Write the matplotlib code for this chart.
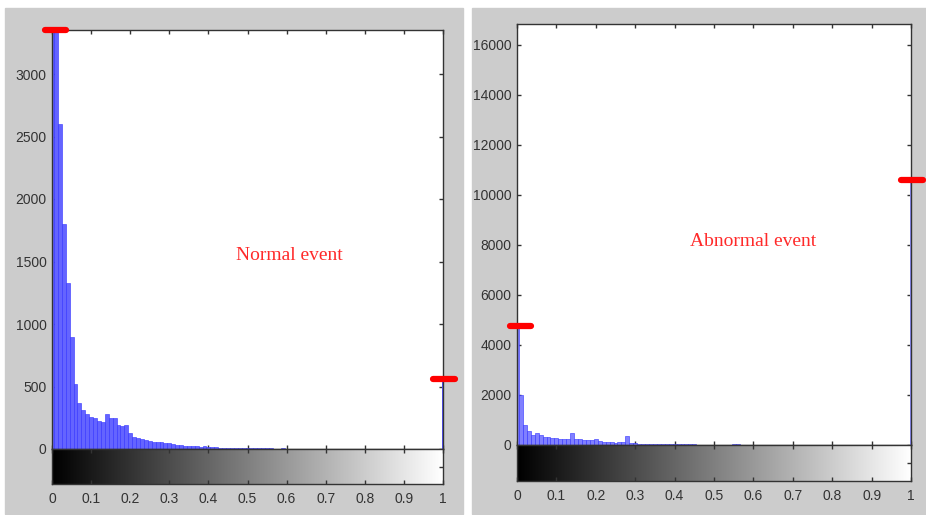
"""
Gray-level histograms of a normal and an abnormal event (MATLAB imhist style).
"""

import numpy as np
import matplotlib.pyplot as plt
from matplotlib.patches import Rectangle

LEVEL_STEP = 0.01   # histogram bin spacing on the 0..1 intensity axis

# counts per bin starting at intensity 0.00 (bins above the last value are empty)
NORMAL_COUNTS = [3600, 3450, 2600, 1800, 1330, 900, 520, 370, 310, 280,
                 260, 245, 225, 215, 280, 250, 245, 190, 185, 195,
                 130, 100, 85, 80, 75, 65, 60, 55, 55, 50,
                 50, 40, 35, 30, 28, 25, 25, 22, 20, 22,
                 18, 15, 14, 12, 12, 10, 10, 9, 8, 9,
                 8, 7, 6, 6, 7, 5, 5, 4, 4, 5,
                 4, 3, 2, 3, 2]
NORMAL_WHITE = 560   # count in the saturated (intensity 1.0) bin

ABNORMAL_COUNTS = [4750, 2000, 800, 550, 420, 500, 400, 340, 320, 300,
                   280, 260, 250, 240, 480, 260, 230, 200, 190, 200,
                   240, 180, 130, 120, 110, 100, 110, 120, 380, 90,
                   70, 60, 55, 50, 45, 40, 40, 35, 30, 30,
                   35, 30, 28, 25, 25, 22, 20, 20, 18, 15,
                   15, 14, 12, 12, 12, 30, 60, 10, 8, 6, 5]
ABNORMAL_WHITE = 10600

X_TICKS = [0, 0.1, 0.2, 0.3, 0.4, 0.5, 0.6, 0.7, 0.8, 0.9, 1]
X_TICK_LABELS = ["0", "0.1", "0.2", "0.3", "0.4", "0.5", "0.6", "0.7", "0.8", "0.9", "1"]
NORMAL_Y_TICKS = [0, 500, 1000, 1500, 2000, 2500, 3000]
ABNORMAL_Y_TICKS = [0, 2000, 4000, 6000, 8000, 10000, 12000, 14000, 16000]

W, H = 926, 515
TICK_FONT = ["Liberation Sans", "DejaVu Sans"]


def fig_rect(x0, y0, x1, y1):
    """pixel box (top-left origin) -> figure fraction [left, bottom, w, h]"""
    return [x0 / W, 1 - y1 / H, (x1 - x0) / W, (y1 - y0) / H]


def draw_panel(fig, counts, white, ymax, yticks, label, label_xy,
               bg_box, ax_box, cb_box, bar_color, white_color):
    # gray MATLAB figure background behind each panel
    fig.patches.append(Rectangle((bg_box[0], bg_box[1]), bg_box[2], bg_box[3],
                                 transform=fig.transFigure, color="#cccccc", zorder=-10))

    ax = fig.add_axes(fig_rect(*ax_box))
    levels = np.arange(len(counts)) * LEVEL_STEP
    ax.bar(levels, counts, width=LEVEL_STEP, color=bar_color,
           edgecolor="#3030ff", linewidth=0.4, zorder=2)
    ax.bar([1.0], [white], width=0.004, color=white_color, linewidth=0, zorder=2)

    ax.set_xlim(0, 1)
    ax.set_ylim(0, ymax)
    ax.set_xticks(X_TICKS)
    ax.set_xticklabels([])
    ax.set_yticks(yticks)
    ax.set_yticklabels([str(t) for t in yticks], family=TICK_FONT,
                       fontsize=10, color="#333333")
    ax.tick_params(direction="in", length=3, width=1, color="#333333",
                   top=True, right=True, pad=4)
    for s in ax.spines.values():
        s.set_color("#333333")
        s.set_linewidth(1)

    # red markers on the two peaks (clipped at the axis top if needed)
    y0 = min(counts[0], ymax)
    ax.plot([-0.018, 0.035], [y0, y0], color="red", lw=4.5,
            solid_capstyle="round", clip_on=False, zorder=5)
    ax.plot([0.975, 1.03], [white, white], color="red", lw=4.5,
            solid_capstyle="round", clip_on=False, zorder=5)

    ax.text(label_xy[0], label_xy[1], label, color="#ff2a2a", fontsize=14,
            family=["Liberation Serif", "DejaVu Serif"], ha="center", va="center")

    # gray-level colorbar underneath
    cb = fig.add_axes(fig_rect(*cb_box))
    cb.imshow(np.linspace(0, 1, 256).reshape(1, -1), cmap="gray", aspect="auto",
              extent=[0, 1, 0, 1], vmin=0, vmax=1)
    cb.set_xlim(0, 1)
    cb.set_ylim(0, 1)
    cb.set_xticks(X_TICKS)
    cb.set_xticklabels(X_TICK_LABELS, family=TICK_FONT, fontsize=10, color="#333333")
    cb.set_yticks([0.5])
    cb.set_yticklabels([])
    cb.tick_params(direction="in", length=3, width=1, color="#333333",
                   top=True, left=False, right=True, pad=6)
    for s in cb.spines.values():
        s.set_color("#333333")
        s.set_linewidth(1)


def main():
    fig = plt.figure(figsize=(W / 100, H / 100), dpi=100)
    fig.patch.set_facecolor("white")

    draw_panel(fig, NORMAL_COUNTS, NORMAL_WHITE, 3352, NORMAL_Y_TICKS,
               "Normal event", (0.606, 1550),
               [5 / W, 1 - 514 / H, 458 / W, 506 / H],
               (52, 30, 443, 449), (52, 449, 443, 484),
               "#6464ff", "#5050ff")

    draw_panel(fig, ABNORMAL_COUNTS, ABNORMAL_WHITE, 16840, ABNORMAL_Y_TICKS,
               "Abnormal event", (0.60, 8120),
               [472 / W, 1 - 514 / H, 454 / W, 506 / H],
               (517, 24, 911, 445), (517, 445, 911, 481),
               "#8080ff", "#9090ff")

    fig.savefig("out.png", dpi=100, facecolor=fig.get_facecolor())


if __name__ == "__main__":
    main()
